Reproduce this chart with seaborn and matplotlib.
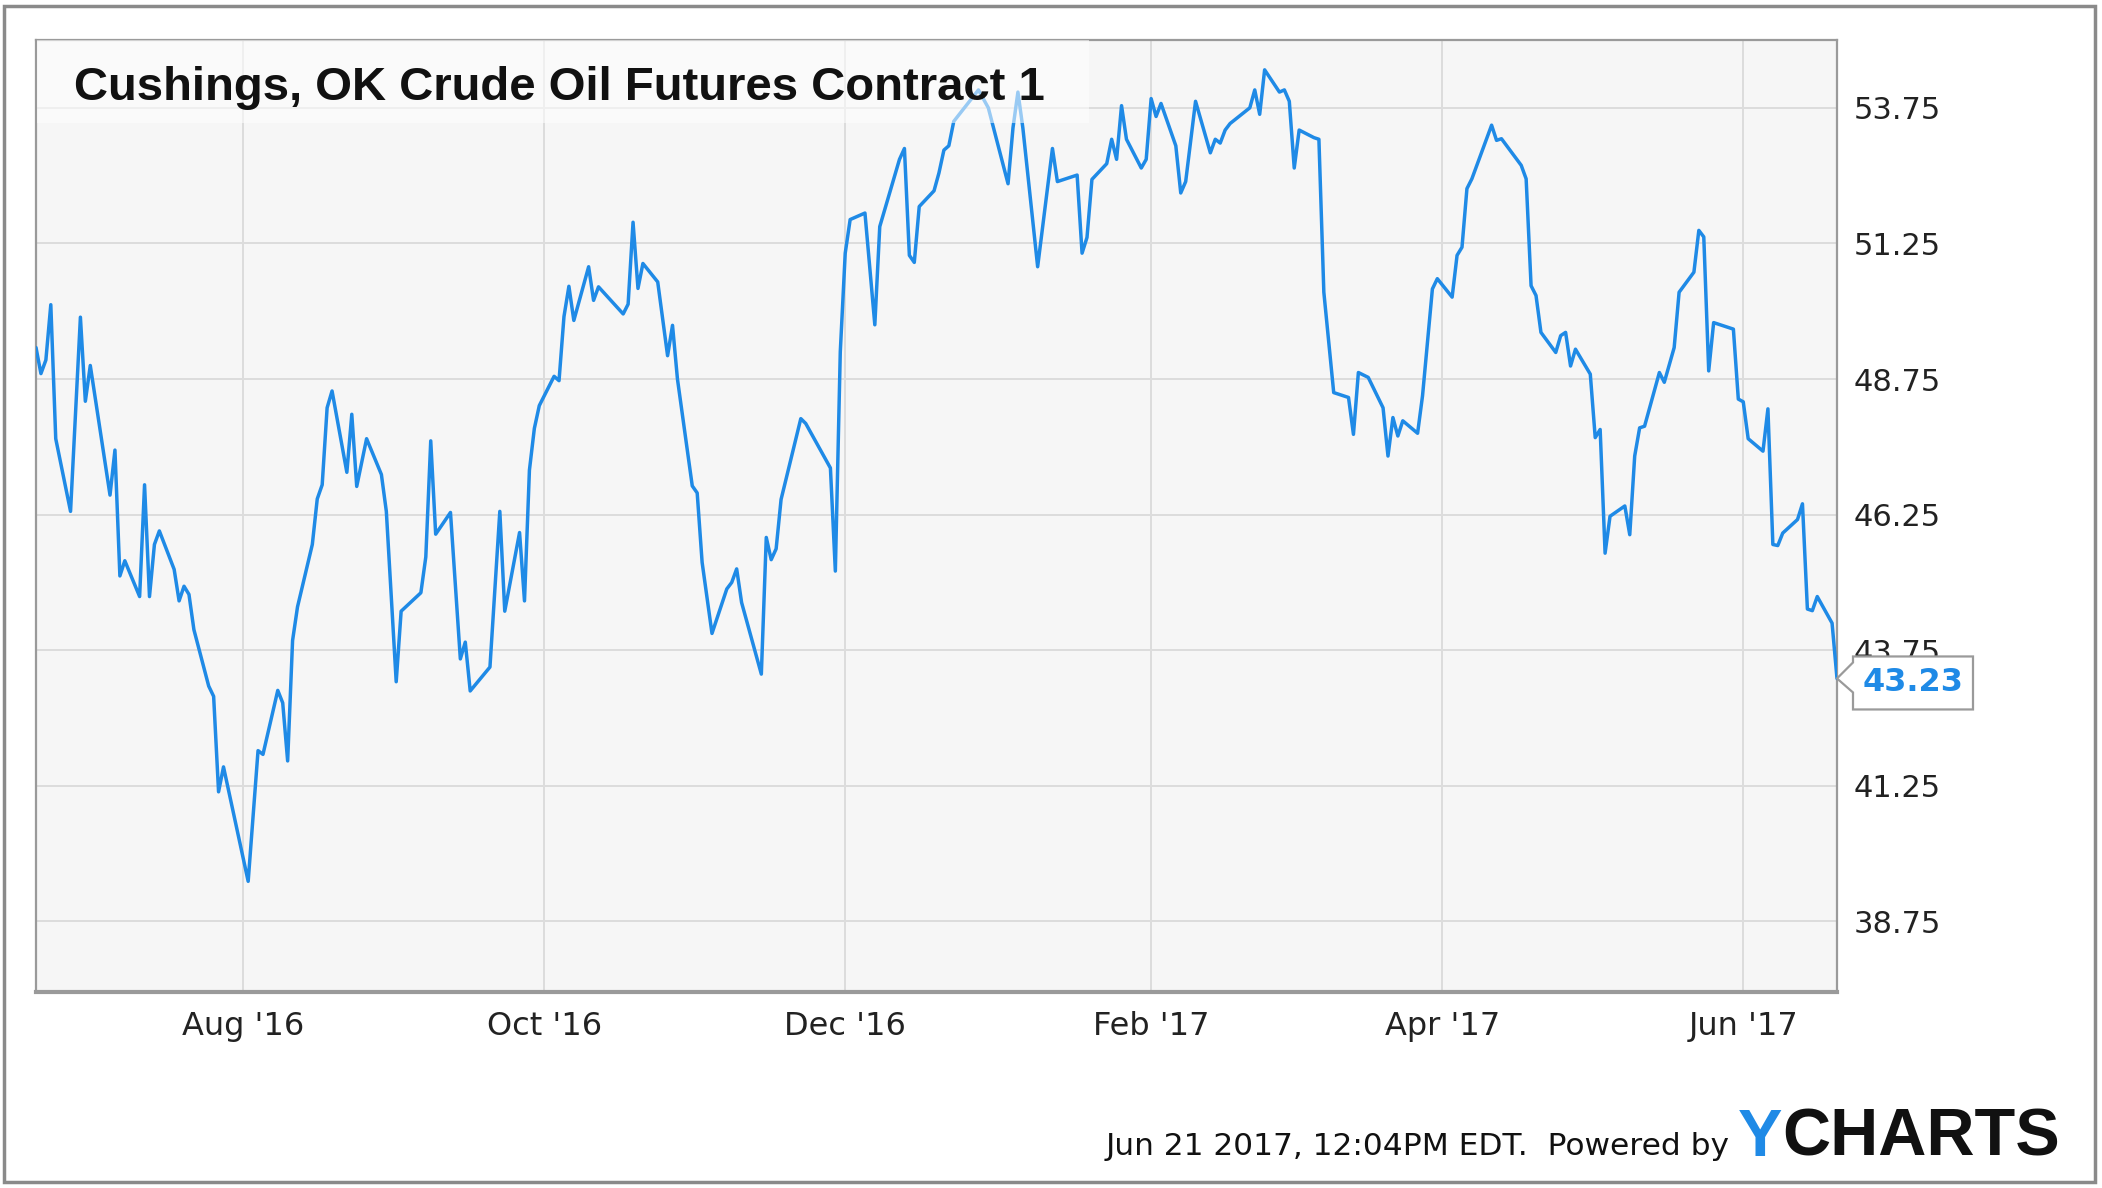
import numpy as np
import pandas as pd
import matplotlib
matplotlib.use('Agg')
import matplotlib.pyplot as plt
import matplotlib.dates as mdates
import matplotlib.transforms as mtransforms
from matplotlib.patches import Rectangle, Polygon
import seaborn as sns

# --- data (daily settle, $/bbl) ---
TITLE = 'Cushings, OK Crude Oil Futures Contract 1'
FOOTER = 'Jun 21 2017, 12:04PM EDT.  Powered by'

DATES_2016 = [
    '2016-06-20', '2016-06-21', '2016-06-22', '2016-06-23', '2016-06-24', '2016-06-27',
    '2016-06-29', '2016-06-30', '2016-07-01', '2016-07-05', '2016-07-06', '2016-07-07',
    '2016-07-08', '2016-07-11', '2016-07-12', '2016-07-13', '2016-07-14', '2016-07-15',
    '2016-07-18', '2016-07-19', '2016-07-20', '2016-07-21', '2016-07-22', '2016-07-25',
    '2016-07-26', '2016-07-27', '2016-07-28', '2016-08-02', '2016-08-04', '2016-08-05',
    '2016-08-08', '2016-08-09', '2016-08-10', '2016-08-11', '2016-08-12', '2016-08-15',
    '2016-08-16', '2016-08-17', '2016-08-18', '2016-08-19', '2016-08-22', '2016-08-23',
    '2016-08-24', '2016-08-26', '2016-08-29', '2016-08-30', '2016-09-01', '2016-09-02',
    '2016-09-06', '2016-09-07', '2016-09-08', '2016-09-09', '2016-09-12', '2016-09-14',
    '2016-09-15', '2016-09-16', '2016-09-20', '2016-09-22', '2016-09-23', '2016-09-26',
    '2016-09-27', '2016-09-28', '2016-09-29', '2016-09-30', '2016-10-03', '2016-10-04',
    '2016-10-05', '2016-10-06', '2016-10-07', '2016-10-10', '2016-10-11', '2016-10-12',
    '2016-10-17', '2016-10-18', '2016-10-19', '2016-10-20', '2016-10-21', '2016-10-24',
    '2016-10-26', '2016-10-27', '2016-10-28', '2016-10-31', '2016-11-01', '2016-11-02',
    '2016-11-04', '2016-11-07', '2016-11-08', '2016-11-09', '2016-11-10', '2016-11-14',
    '2016-11-15', '2016-11-16', '2016-11-17', '2016-11-18', '2016-11-22', '2016-11-23',
    '2016-11-28', '2016-11-29', '2016-11-30', '2016-12-01', '2016-12-02', '2016-12-05',
    '2016-12-07', '2016-12-08', '2016-12-12', '2016-12-13', '2016-12-14', '2016-12-15',
    '2016-12-16', '2016-12-19', '2016-12-20', '2016-12-21', '2016-12-22', '2016-12-23',
    '2016-12-28', '2016-12-30',
]
PRICES_2016 = [
    49.33, 48.85, 49.10, 50.12, 47.65, 46.31,
    49.89, 48.34, 49.00, 46.61, 47.44, 45.12,
    45.40, 44.74, 46.80, 44.74, 45.70, 45.95,
    45.24, 44.66, 44.93, 44.78, 44.13, 43.09,
    42.90, 41.14, 41.60, 39.49, 41.90, 41.83,
    43.01, 42.78, 41.71, 43.93, 44.55, 45.70,
    46.54, 46.80, 48.22, 48.53, 47.03, 48.10,
    46.77, 47.65, 46.99, 46.31, 43.17, 44.47,
    44.81, 45.47, 47.61, 45.89, 46.29, 43.59,
    43.90, 43.00, 43.44, 46.31, 44.47, 45.92,
    44.66, 47.07, 47.84, 48.26, 48.80, 48.72,
    49.90, 50.46, 49.83, 50.82, 50.20, 50.45,
    49.95, 50.13, 51.64, 50.42, 50.88, 50.54,
    49.18, 49.74, 48.75, 46.78, 46.65, 45.37,
    44.06, 44.88, 45.00, 45.25, 44.63, 43.31,
    45.83, 45.42, 45.62, 46.53, 48.02, 47.93,
    47.11, 45.21, 49.25, 51.07, 51.69, 51.81,
    49.75, 51.56, 52.80, 53.00, 51.03, 50.90,
    51.93, 52.22, 52.55, 52.97, 53.05, 53.50,
    54.08, 53.75,
]
DATES_2017 = [
    '2017-01-03', '2017-01-04', '2017-01-05', '2017-01-06', '2017-01-09', '2017-01-12',
    '2017-01-13', '2017-01-17', '2017-01-18', '2017-01-19', '2017-01-20', '2017-01-23',
    '2017-01-24', '2017-01-25', '2017-01-26', '2017-01-27', '2017-01-30', '2017-01-31',
    '2017-02-01', '2017-02-02', '2017-02-03', '2017-02-06', '2017-02-07', '2017-02-08',
    '2017-02-10', '2017-02-13', '2017-02-14', '2017-02-15', '2017-02-16', '2017-02-17',
    '2017-02-21', '2017-02-22', '2017-02-23', '2017-02-24', '2017-02-27', '2017-02-28',
    '2017-03-01', '2017-03-02', '2017-03-03', '2017-03-06', '2017-03-07', '2017-03-08',
    '2017-03-10', '2017-03-13', '2017-03-14', '2017-03-15', '2017-03-17', '2017-03-20',
    '2017-03-21', '2017-03-22', '2017-03-23', '2017-03-24', '2017-03-27', '2017-03-28',
    '2017-03-30', '2017-03-31', '2017-04-03', '2017-04-04', '2017-04-05', '2017-04-06',
    '2017-04-07', '2017-04-11', '2017-04-12', '2017-04-13', '2017-04-17', '2017-04-18',
    '2017-04-19', '2017-04-20', '2017-04-21', '2017-04-24', '2017-04-25', '2017-04-26',
    '2017-04-27', '2017-04-28', '2017-05-01', '2017-05-02', '2017-05-03', '2017-05-04',
    '2017-05-05', '2017-05-08', '2017-05-09', '2017-05-10', '2017-05-11', '2017-05-12',
    '2017-05-15', '2017-05-16', '2017-05-18', '2017-05-19', '2017-05-22', '2017-05-23',
    '2017-05-24', '2017-05-25', '2017-05-26', '2017-05-30', '2017-05-31', '2017-06-01',
    '2017-06-02', '2017-06-05', '2017-06-06', '2017-06-07', '2017-06-08', '2017-06-09',
    '2017-06-12', '2017-06-13', '2017-06-14', '2017-06-15', '2017-06-16', '2017-06-19',
    '2017-06-20',
]
PRICES_2017 = [
    52.35, 53.38, 54.04, 53.38, 50.82, 53.00,
    52.39, 52.51, 51.07, 51.36, 52.43, 52.72,
    53.17, 52.80, 53.79, 53.17, 52.64, 52.80,
    53.92, 53.59, 53.83, 53.05, 52.18, 52.39,
    53.87, 52.92, 53.17, 53.10, 53.34, 53.46,
    53.75, 54.08, 53.63, 54.45, 54.04, 54.08,
    53.87, 52.64, 53.34, 53.20, 53.17, 50.35,
    48.50, 48.41, 47.73, 48.87, 48.78, 48.22,
    47.33, 48.04, 47.70, 47.98, 47.75, 48.44,
    50.41, 50.60, 50.26, 51.03, 51.18, 52.26,
    52.44, 53.43, 53.15, 53.18, 52.69, 52.44,
    50.47, 50.29, 49.61, 49.24, 49.55, 49.61,
    48.99, 49.30, 48.84, 47.67, 47.82, 45.54,
    46.22, 46.41, 45.88, 47.33, 47.85, 47.88,
    48.87, 48.69, 49.33, 50.35, 50.72, 51.49,
    51.37, 48.90, 49.79, 49.67, 48.38, 48.33,
    47.65, 47.42, 48.20, 45.70, 45.68, 45.91,
    46.16, 46.45, 44.51, 44.48, 44.74, 44.25,
    43.23,
]
Y_TICKS = [38.75, 41.25, 43.75, 46.25, 48.75, 51.25, 53.75]
X_MONTHS = [2, 4, 6, 8, 10, 12]

LINE_BLUE = '#1f8ae6'
GRID = '#dcdcdc'
BORDER = '#9a9a9a'

sns.set_theme(style='white')
plt.rcParams['font.family'] = ['DejaVu Sans']

W, H = 2102, 1188
fig = plt.figure(figsize=(W / 100, H / 100), dpi=100)
fig.patch.set_facecolor('white')
ax = fig.add_axes([36 / W, 1 - 992 / H, (1837 - 36) / W, (992 - 40) / H])

df = pd.DataFrame({'date': pd.to_datetime(DATES_2016 + DATES_2017),
                   'price': PRICES_2016 + PRICES_2017})

sns.lineplot(data=df, x='date', y='price', ax=ax, color=LINE_BLUE, linewidth=2.5, zorder=3)

ax.set_facecolor('#f6f6f6')
ax.set_xlim(df['date'].iloc[0], df['date'].iloc[-1])
ax.set_ylim(37.45, 55.0)
ax.set_yticks(Y_TICKS)
ax.yaxis.set_major_formatter(plt.FormatStrFormatter('%.2f'))
ax.yaxis.tick_right()
ax.xaxis.set_major_locator(mdates.MonthLocator(bymonth=X_MONTHS))
ax.xaxis.set_major_formatter(mdates.DateFormatter("%b '%y"))
ax.tick_params(axis='both', length=0, colors='#222222')
ax.tick_params(axis='y', labelsize=22, pad=12)
ax.tick_params(axis='x', labelsize=23, pad=14)
ax.set_axisbelow(True)
ax.grid(True, color=GRID, linewidth=1.4)
ax.set_xlabel('')
ax.set_ylabel('')
for s in ax.spines.values():
    s.set_color(BORDER)
    s.set_linewidth(1.6)
ax.spines['bottom'].set_linewidth(3)

# semi-transparent title box over the plot area
fig.add_artist(Rectangle((37 / W, 1 - 123 / H), (1089 - 37) / W, (123 - 40) / H,
                         transform=fig.transFigure, facecolor='white', alpha=0.55,
                         edgecolor='none', zorder=2))
fig.text(74 / W, 1 - 100 / H, TITLE, fontsize=34, fontweight='bold',
         family='Liberation Sans', va='baseline', color='#111111', zorder=3)

# callout with last value, anchored on the last point
last_x = mdates.date2num(df['date'].iloc[-1])
last_y = df['price'].iloc[-1]
anchor = fig.dpi_scale_trans + mtransforms.ScaledTranslation(last_x, last_y, ax.transData)
notch = np.array([(0, 0), (16, 16), (16, 22), (136, 22), (136, -31),
                  (16, -31), (16, -14)]) / 100
fig.add_artist(Polygon(notch, closed=True, transform=anchor, facecolor='white',
                       edgecolor=BORDER, linewidth=1.6, zorder=5))
fig.text(0.76, -0.045, f'{last_y:.2f}', transform=anchor, ha='center', va='center',
         fontsize=23, fontweight='bold', color=LINE_BLUE, zorder=6)

# footer: date stamp + YCHARTS logo text
charts = fig.text(2060 / W, 1 - 1156 / H, 'CHARTS', fontsize=48, fontweight='heavy',
                  family='Liberation Sans', ha='right', va='baseline', color='#111111')
fig.canvas.draw()
bb = charts.get_window_extent()
y_t = fig.text(bb.x0 / W, 1 - 1156 / H, 'Y', fontsize=48, fontweight='heavy',
               family='Liberation Sans', ha='right', va='baseline', color=LINE_BLUE)
fig.canvas.draw()
bb = y_t.get_window_extent()
fig.text((bb.x0 - 8) / W, 1 - 1155 / H, FOOTER, fontsize=22.5,
         ha='right', va='baseline', color='#111111')

# outer frame
fig.add_artist(Rectangle((4 / W, 6 / H), (2095 - 4) / W, (1182 - 6) / H,
                         transform=fig.transFigure, fill=False,
                         edgecolor='#8a8a8a', linewidth=2.5))

fig.savefig('out.png', dpi=100)
